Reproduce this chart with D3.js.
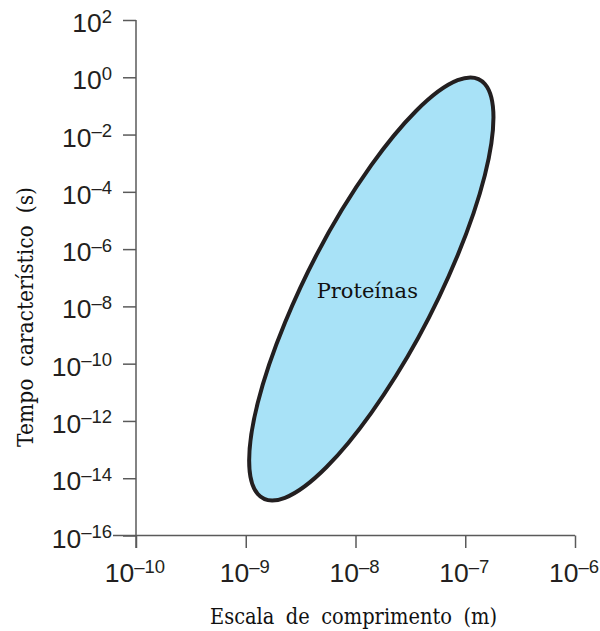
<!DOCTYPE html>
<html>
<head>
<meta charset="utf-8">
<script src="https://cdn.jsdelivr.net/npm/d3@7/dist/d3.min.js"></script>
<style>
  html, body { margin: 0; padding: 0; background: #fff; }
  svg { display: block; }
  .tick-label { font-family: "Liberation Sans", Arial, sans-serif; fill: #231f20; }
  .serif { font-family: "DejaVu Serif", "Liberation Serif", serif; fill: #111; }
</style>
</head>
<body>
<script>
// ---- Data ----
// Axis ticks (exponents of 10)
const xTickExps = [-10, -9, -8, -7, -6];                        // length scale (m)
const yTickExps = [2, 0, -2, -4, -6, -8, -10, -12, -14, -16];   // characteristic time (s)

// Protein region (ellipse in log-log space):
// centre, and the ends of two conjugate half-diameters (log10 length in m, log10 time in s)
const regionCenter = [-7.856, -7.393];
const regionAxisA  = [-6.743, -1.405];   // rightmost point of the outline
const regionAxisB  = [-7.856, -11.716];  // conjugate point straight below the centre
const regionLabel = "Proteínas";
const regionLabelPos = [-7.856, -7.40];

const xTitle = "Escala de comprimento (m)";
const yTitle = "Tempo característico (s)";

// ---- Layout ----
const W = 600, H = 631;
const svg = d3.select("body").append("svg").attr("width", W).attr("height", H);

const x = d3.scaleLog().domain([1e-10, 1e-6]).range([136, 575]);
const y = d3.scaleLog().domain([1e-16, 1e2]).range([535.5, 20]);
const px = p => [x(Math.pow(10, p[0])), y(Math.pow(10, p[1]))];

const axisColor = "#5a5a5a";

// Region: unit circle mapped through the scaled centre and conjugate half-diameters
const c = px(regionCenter), a = px(regionAxisA), b = px(regionAxisB);
const u = [a[0] - c[0], a[1] - c[1]], v = [b[0] - c[0], b[1] - c[1]];
svg.append("circle")
  .attr("r", 1)
  .attr("transform", `matrix(${u[0]},${u[1]},${v[0]},${v[1]},${c[0]},${c[1]})`)
  .attr("fill", "#a8e2f7")
  .attr("stroke", "#231f20")
  .attr("stroke-width", 4)
  .attr("vector-effect", "non-scaling-stroke");

const lp = px(regionLabelPos);
svg.append("text")
  .attr("class", "serif")
  .attr("x", lp[0] - 4)
  .attr("y", lp[1] + 9)
  .attr("text-anchor", "middle")
  .attr("font-size", 21)
  .text(regionLabel);

// X axis
const xAxis = d3.axisBottom(x)
  .tickValues(xTickExps.map(e => Math.pow(10, e)))
  .tickSize(12.5).tickSizeOuter(0).tickFormat(() => "");
const gx = svg.append("g").attr("transform", `translate(0,${y(1e-16)})`).call(xAxis);
gx.select(".domain").remove();
gx.selectAll(".tick line").attr("stroke", axisColor).attr("stroke-width", 1.5);

// Y axis
const yAxis = d3.axisLeft(y)
  .tickValues(yTickExps.map(e => Math.pow(10, e)))
  .tickSize(13).tickSizeOuter(0).tickFormat(() => "");
const gy = svg.append("g").attr("transform", `translate(${x(1e-10)},0)`).call(yAxis);
gy.select(".domain").remove();
gy.selectAll(".tick line").attr("stroke", axisColor).attr("stroke-width", 1.5);

// Axis lines
svg.append("line")
  .attr("x1", x(1e-10) - 23).attr("x2", x(1e-6))
  .attr("y1", y(1e-16)).attr("y2", y(1e-16))
  .attr("stroke", axisColor).attr("stroke-width", 1.5);
svg.append("line")
  .attr("x1", x(1e-10)).attr("x2", x(1e-10))
  .attr("y1", y(1e2)).attr("y2", y(1e-16) + 12.5)
  .attr("stroke", axisColor).attr("stroke-width", 1.5);

function expText(e) { return e < 0 ? "\u2013" + Math.abs(e) : String(e); }

// X tick labels
xTickExps.forEach(e => {
  const t = svg.append("text").attr("class", "tick-label")
    .attr("x", x(Math.pow(10, e)) - 1).attr("y", y(1e-16) + 46.5)
    .attr("text-anchor", "middle").attr("font-size", 26.5);
  t.append("tspan").text("10");
  t.append("tspan").attr("dy", -9.5).attr("font-size", 18.5).text(expText(e));
});

// Y tick labels
yTickExps.forEach(e => {
  const t = svg.append("text").attr("class", "tick-label")
    .attr("x", 112).attr("y", y(Math.pow(10, e)) + 12)
    .attr("text-anchor", "end").attr("font-size", 26.5);
  t.append("tspan").text("10");
  t.append("tspan").attr("dy", -9.5).attr("font-size", 18.5).text(expText(e));
});

// Axis titles
svg.append("text").attr("class", "serif")
  .attr("x", 210).attr("y", 624)
  .attr("font-size", 22)
  .attr("word-spacing", 6)
  .attr("textLength", 287).attr("lengthAdjust", "spacingAndGlyphs")
  .text(xTitle);

svg.append("text").attr("class", "serif")
  .attr("transform", "translate(33,447) rotate(-90)")
  .attr("font-size", 22)
  .attr("word-spacing", 6)
  .attr("textLength", 260).attr("lengthAdjust", "spacingAndGlyphs")
  .text(yTitle);
</script>
</body>
</html>
